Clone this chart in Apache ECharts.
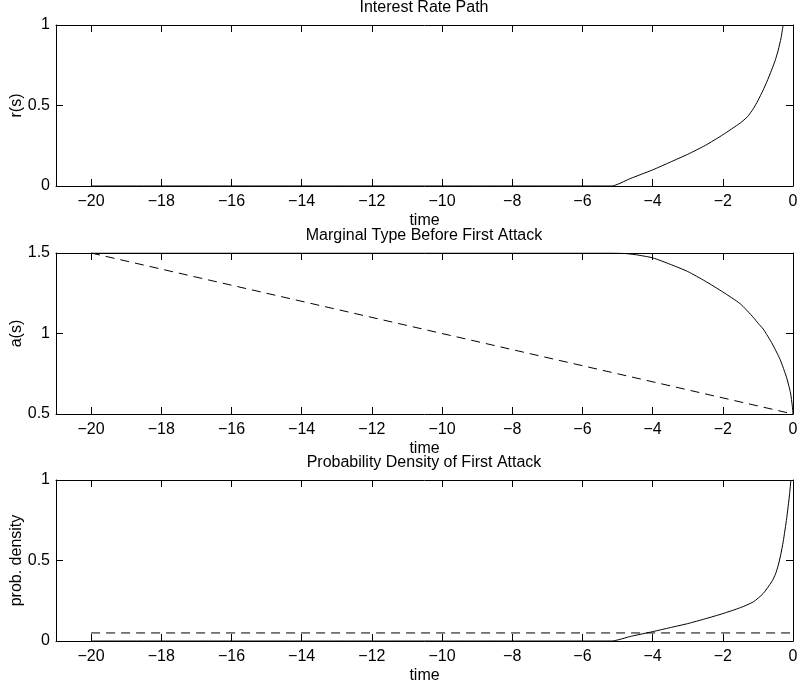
<!DOCTYPE html>
<html>
<head>
<meta charset="utf-8">
<script src="https://cdn.jsdelivr.net/npm/echarts@6/dist/echarts.min.js"></script>
<style>
  html, body { margin: 0; padding: 0; background: #fff; }
  #main { width: 797px; height: 687px; }
</style>
</head>
<body>
<div id="main"></div>
<script>
// tick labels
var timeTicks = [-20, -18, -16, -14, -12, -10, -8, -6, -4, -2, 0];

// Interest Rate Path
var rTime = [-20, -5.17, -4.64, -4.0, -3.5, -3.0, -2.5, -2.0, -1.5, -1.3, -1.13, -1.0, -0.85, -0.75, -0.61, -0.5, -0.42, -0.34, -0.28];
var rVals = [0, 0, 0.046, 0.1, 0.148, 0.197, 0.252, 0.318, 0.392, 0.43, 0.48, 0.53, 0.596, 0.645, 0.72, 0.785, 0.845, 0.92, 1.0];

// Marginal Type Before First Attack
var aTime = [-20, -5.2, -4.8, -4.5, -4.0, -3.5, -3.0, -2.5, -2.0, -1.5, -1.13, -1.0, -0.85, -0.75, -0.61, -0.37, -0.18, -0.07, -0.02, 0];
var aVals = [1.5, 1.5, 1.497, 1.49, 1.47, 1.43, 1.385, 1.325, 1.258, 1.184, 1.10, 1.065, 1.028, 0.994, 0.944, 0.84, 0.725, 0.63, 0.55, 0.5];
var aDashTime = [-20, 0];
var aDashVals = [1.5, 0.5];

// Probability Density of First Attack
var pTime = [-20, -5.17, -4.6, -4.0, -3.5, -3.0, -2.5, -2.0, -1.5, -1.13, -0.85, -0.61, -0.5, -0.42, -0.35, -0.28, -0.18, -0.10, -0.06];
var pVals = [0, 0, 0.03, 0.058, 0.083, 0.108, 0.138, 0.17, 0.207, 0.243, 0.295, 0.367, 0.415, 0.471, 0.535, 0.616, 0.762, 0.907, 1.0];
var pDashTime = [-20, 0];
var pDashVals = [0.05, 0.05];

function zip(xs, ys) {
  return xs.map(function (x, i) { return [x, ys[i]]; });
}

var font = 'Liberation Sans, Arial, Helvetica, sans-serif';
var fmtMinus = function (v) { return v < 0 ? '\u2212' + (-v) : String(v); };

var gridTops = [25, 253, 480];
var gridH = 161;
var titles = ['Interest Rate Path', 'Marginal Type Before First Attack', 'Probability Density of First Attack'];
var yNames = ['r(s)', 'a(s)', 'prob. density'];
var yRanges = [[0, 1], [0.5, 1.5], [0, 1]];

var grids = [], xAxes = [], yAxes = [], titleList = [];
for (var i = 0; i < 3; i++) {
  grids.push({ left: 56, right: 4, top: gridTops[i], height: gridH, containLabel: false, outerBoundsMode: 'none' });
  titleList.push({
    text: titles[i], left: 424, top: gridTops[i] - 25, textAlign: 'center', padding: 0,
    textStyle: { fontFamily: font, fontSize: 16, fontWeight: 'normal', color: '#000' }
  });
  var lineStyle = { color: '#000', width: 1 };
  xAxes.push({
    type: 'value', gridIndex: i, position: 'bottom', min: -21, max: 0,
    name: 'time', nameLocation: 'middle', nameGap: 27, nameMoveOverlap: false,
    nameTextStyle: { fontFamily: font, fontSize: 16, color: '#000' },
    axisLine: { show: true, onZero: false, lineStyle: lineStyle },
    axisTick: { show: true, inside: true, length: 7, customValues: timeTicks, lineStyle: lineStyle },
    axisLabel: { customValues: timeTicks, formatter: fmtMinus, margin: 8, fontFamily: font, fontSize: 16, color: '#000' },
    splitLine: { show: false }
  });
  xAxes.push({
    type: 'value', gridIndex: i, position: 'top', min: -21, max: 0,
    axisLine: { show: true, onZero: false, lineStyle: lineStyle },
    axisTick: { show: true, inside: true, length: 7, customValues: timeTicks, lineStyle: lineStyle },
    axisLabel: { show: false },
    splitLine: { show: false }
  });
  yAxes.push({
    type: 'value', gridIndex: i, position: 'left', min: yRanges[i][0], max: yRanges[i][1], interval: 0.5,
    name: yNames[i], nameLocation: 'middle', nameGap: 31, nameMoveOverlap: false,
    nameTextStyle: { fontFamily: font, fontSize: 16, color: '#000' },
    axisLine: { show: true, onZero: false, lineStyle: lineStyle },
    axisTick: { show: true, inside: true, length: 7, lineStyle: lineStyle },
    axisLabel: { margin: 6, fontFamily: font, fontSize: 16, color: '#000' },
    splitLine: { show: false }
  });
  yAxes.push({
    type: 'value', gridIndex: i, position: 'right', min: yRanges[i][0], max: yRanges[i][1], interval: 0.5,
    axisLine: { show: true, onZero: false, lineStyle: lineStyle },
    axisTick: { show: true, inside: true, length: 7, lineStyle: lineStyle },
    axisLabel: { show: false },
    splitLine: { show: false }
  });
}

function solid(xi, yi, data) {
  return {
    type: 'line', xAxisIndex: xi, yAxisIndex: yi, data: data, showSymbol: false, symbol: 'none',
    smooth: 0.2, clip: true,
    lineStyle: { color: '#000', width: 1 }, animation: false
  };
}
function dashed(xi, yi, data) {
  return {
    type: 'line', xAxisIndex: xi, yAxisIndex: yi, data: data, showSymbol: false, symbol: 'none',
    clip: true, lineStyle: { color: '#000', width: 1, type: [9, 6] }, animation: false
  };
}

var myChart = echarts.init(document.getElementById('main'));
var option = {
  backgroundColor: '#fff',
  animation: false,
  title: titleList,
  grid: grids,
  xAxis: xAxes,
  yAxis: yAxes,
  series: [
    solid(0, 0, zip(rTime, rVals)),
    dashed(2, 2, zip(aDashTime, aDashVals)),
    solid(2, 2, zip(aTime, aVals)),
    dashed(4, 4, zip(pDashTime, pDashVals)),
    solid(4, 4, zip(pTime, pVals))
  ]
};
myChart.setOption(option);
</script>
</body>
</html>
